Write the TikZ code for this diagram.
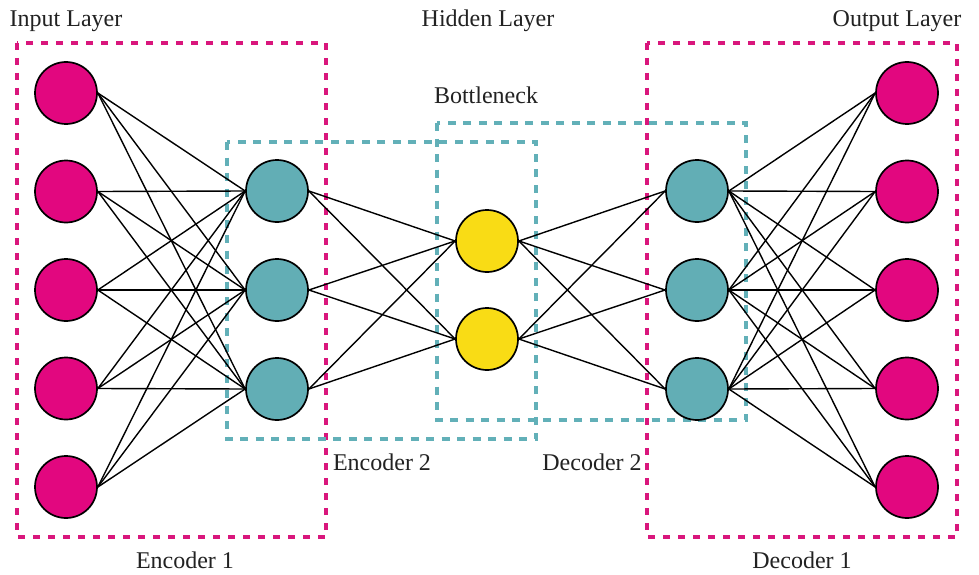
\documentclass[tikz,border=0pt]{standalone}
\usepackage{fontspec}
\setmainfont{Liberation Serif}
\begin{document}
\begin{tikzpicture}[x=1pt,y=-1pt,
  neuron/.style={circle,draw=black,line width=1.7pt,minimum size=62pt,inner sep=0pt},
  inneuron/.style={neuron,fill=nmag},
  hidneuron/.style={neuron,fill=nteal},
  botneuron/.style={neuron,fill=nyel},
  link/.style={draw=black,line width=1.4pt},
  magbox/.style={draw=dmag,line width=3.3pt,dash pattern=on 7pt off 8pt},
  tealbox/.style={draw=dteal,line width=3.3pt,dash pattern=on 8pt off 7.5pt},
  lbl/.style={anchor=base,text=txt,font=\fontsize{24}{27}\selectfont,inner sep=0pt}
]
\definecolor{nmag}{HTML}{E2077F}
\definecolor{nteal}{HTML}{62AEB5}
\definecolor{nyel}{HTML}{F9DC15}
\definecolor{dmag}{HTML}{D9167C}
\definecolor{dteal}{HTML}{62B0B8}
\definecolor{txt}{HTML}{222222}
\useasboundingbox[fill=white] (0,0) rectangle (979,575);

% dashed boxes
\draw[magbox] (17,43) rectangle (326,537);
\draw[magbox] (647,43) rectangle (957,537);
\draw[tealbox] (227,142) rectangle (536,439);
\draw[tealbox] (437,123) rectangle (746,420);

% neurons
\foreach \i/\y in {1/93,2/191.5,3/290,4/388.5,5/487}{
  \node[inneuron] (in\i) at (66,\y) {};
  \node[inneuron] (out\i) at (907,\y) {};
}
\foreach \i/\y in {1/191,2/290,3/389}{
  \node[hidneuron] (e\i) at (277,\y) {};
  \node[hidneuron] (d\i) at (697,\y) {};
}
\node[botneuron] (b1) at (487,241) {};
\node[botneuron] (b2) at (487,339) {};

% connections
\foreach \i in {1,...,5}{
  \foreach \j in {1,2,3}{
    \draw[link] (in\i.east) -- (e\j.west);
    \draw[link] (d\j.east) -- (out\i.west);
  }
}
\foreach \j in {1,2,3}{
  \foreach \k in {1,2}{
    \draw[link] (e\j.east) -- (b\k.west);
    \draw[link] (b\k.east) -- (d\j.west);
  }
}

% labels
\node[lbl] (tin) at (66,27) {Input Layer};
\node[lbl] (thid) at (488,27) {Hidden Layer};
\node[lbl] (tout) at (897,27) {Output Layer};
\node[lbl] (tbot) at (486,103) {Bottleneck};
\node[lbl] (tenc2) at (382,470) {Encoder 2};
\node[lbl] (tdec2) at (592,470) {Decoder 2};
\node[lbl] (tenc1) at (185,568) {Encoder 1};
\node[lbl] (tdec1) at (802,568) {Decoder 1};
\end{tikzpicture}
\end{document}
